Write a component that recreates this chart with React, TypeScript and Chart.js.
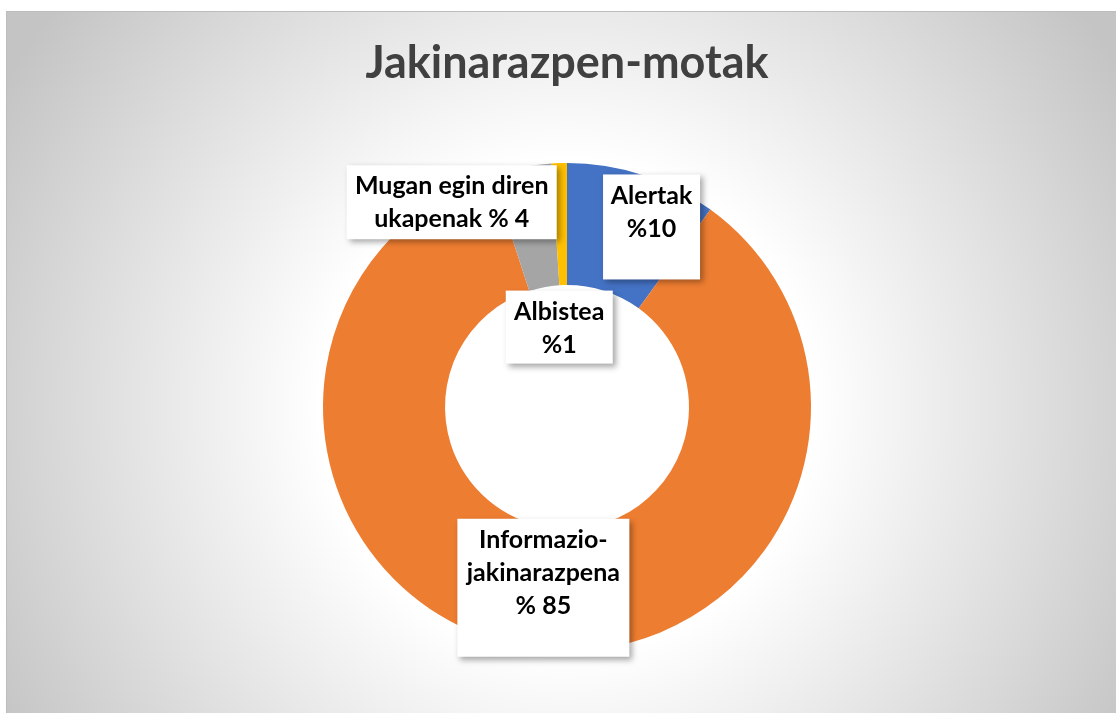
import React, { useEffect, useRef } from "react";
import { Chart, registerables } from "chart.js";

Chart.register(...registerables);

const categories = ["Alertak", "Informazio-jakinarazpena", "Mugan egin diren ukapenak", "Albistea"];
const values = [10, 85, 4, 1];
const colors = ["#4472C4", "#ED7D31", "#A5A5A5", "#FFC000"];
const labelLines = [
  ["Alertak", "%10"],
  ["Informazio-", "jakinarazpena", "% 85"],
  ["Mugan egin diren", "ukapenak % 4"],
  ["Albistea", "%1"],
];
const titleText = "Jakinarazpen-motak";

// label box placement relative to each slice's centroid (style only)
const boxes = [
  { dx: 28, dy: -6, w: 97, h: 105 },
  { dx: 5, dy: 0, w: 172, h: 138 },
  { dx: -81, dy: -25, w: 210, h: 74 },
  { dx: -2, dy: 103, w: 107, h: 73 },
];

const W = 1110;
const H = 702;

const bgPlugin = {
  id: "bgPlugin",
  beforeDraw(chart: any) {
    const ctx = chart.ctx;
    const cx = W / 2 + 6;
    const cy = 396;
    ctx.save();
    const g = ctx.createRadialGradient(cx, cy, 0, cx, cy, 650);
    g.addColorStop(0, "#ffffff");
    g.addColorStop(0.38, "#ffffff");
    g.addColorStop(1, "#c4c4c4");
    ctx.fillStyle = g;
    ctx.fillRect(0, 0, W, H);
    ctx.strokeStyle = "#bdbdbd";
    ctx.lineWidth = 1;
    ctx.strokeRect(0.5, 0.5, W + 10, H + 10);
    // title
    ctx.fillStyle = "#404040";
    ctx.font = "bold 45px Lato";
    ctx.textAlign = "center";
    ctx.textBaseline = "alphabetic";
    const tw = ctx.measureText(titleText).width;
    const target = 403;
    const sx = Math.min(1, target / tw);
    ctx.translate(561, 67);
    ctx.scale(sx, 1);
    ctx.fillText(titleText, 0, 0);
    ctx.restore();
  },
};

const labelPlugin = {
  id: "labelPlugin",
  afterDatasetsDraw(chart: any) {
    const ctx = chart.ctx;
    const meta = chart.getDatasetMeta(0);
    meta.data.forEach((arc: any, i: number) => {
      const p = arc.tooltipPosition();
      const b = boxes[i];
      const bx = p.x + b.dx - b.w / 2;
      const by = p.y + b.dy - b.h / 2;
      ctx.save();
      ctx.shadowColor = "rgba(0,0,0,0.35)";
      ctx.shadowBlur = 6;
      ctx.shadowOffsetX = 3;
      ctx.shadowOffsetY = 3;
      ctx.fillStyle = "#ffffff";
      ctx.fillRect(bx, by, b.w, b.h);
      ctx.restore();
      ctx.save();
      ctx.fillStyle = "#000000";
      ctx.font = "bold 25px Lato";
      ctx.textAlign = "center";
      ctx.textBaseline = "middle";
      labelLines[i].forEach((line, j) => {
        ctx.fillText(line, bx + b.w / 2, by + 21 + j * 33);
      });
      ctx.restore();
    });
  },
};

export default function App() {
  const ref = useRef<HTMLCanvasElement | null>(null);
  useEffect(() => {
    if (!ref.current) return;
    const chart = new Chart(ref.current, {
      type: "doughnut",
      data: {
        labels: categories,
        datasets: [
          {
            data: values,
            backgroundColor: colors,
            borderWidth: 0,
            hoverOffset: 0,
            offset: 0,
          },
        ],
      },
      options: {
        responsive: false,
        animation: false,
        cutout: "50%",
        layout: { padding: { top: 152, bottom: 62, left: 12, right: 0 } },
        plugins: {
          legend: { display: false },
          title: { display: false },
          tooltip: { enabled: false },
        },
        events: [],
      },
      plugins: [bgPlugin, labelPlugin],
    });
    return () => chart.destroy();
  }, []);
  return (
    <div style={{ position: "absolute", left: 6, top: 11, width: W, height: H }}>
      <canvas ref={ref} width={W} height={H} style={{ display: "block" }} />
    </div>
  );
}
